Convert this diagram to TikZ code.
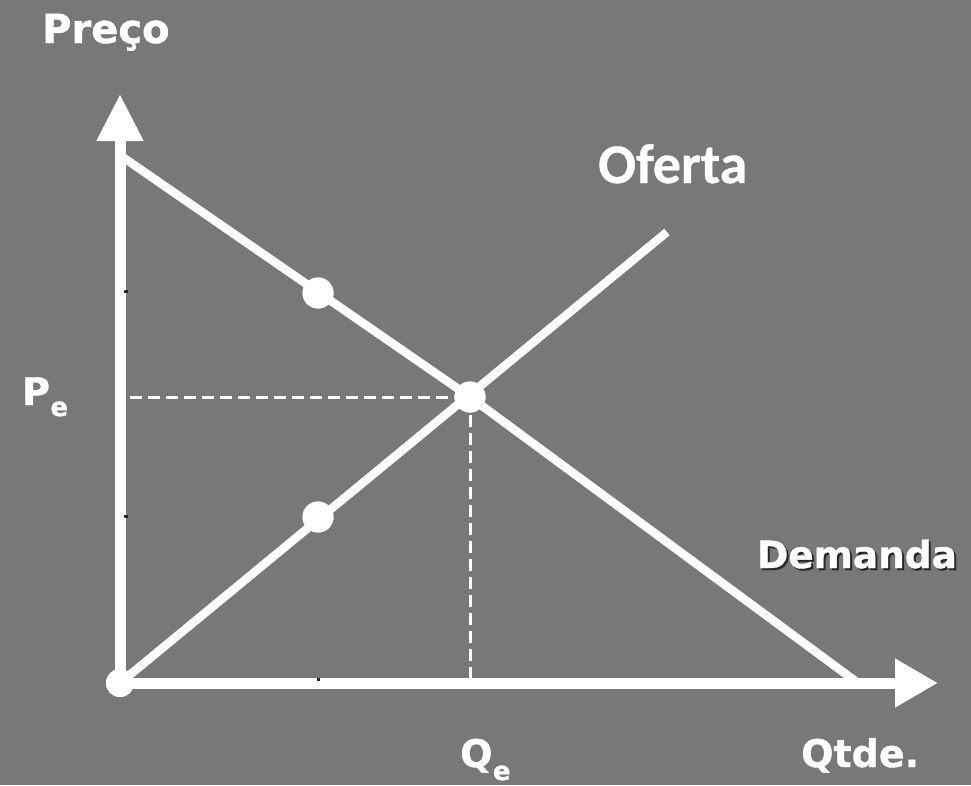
\documentclass[tikz,border=0pt]{standalone}
\usepackage{fontspec}
\newfontfamily\dvs{DejaVu Sans}[BoldFeatures={FakeBold=1}]
\newfontfamily\carl{Carlito}[BoldFeatures={FakeBold=0.6}]
\usetikzlibrary{arrows.meta}
\definecolor{bggray}{RGB}{120,120,120}
\definecolor{tickgray}{RGB}{40,40,40}
\tikzset{
  axisline/.style={draw=white, line width=11pt},
  curveline/.style={draw=white, line width=8.5pt},
  guide/.style={draw=white, line width=3pt, dash pattern=on 12pt off 6pt},
  dotnode/.style={circle, fill=white, minimum size=31pt, inner sep=0pt},
  lbl/.style={text=white, inner sep=0pt, font=\dvs\bfseries\fontsize{38}{44}\selectfont},
  sublbl/.style={text=white, inner sep=0pt, font=\dvs\bfseries\fontsize{26}{30}\selectfont},
  tickmark/.style={draw=tickgray, line width=3pt}
}
\begin{document}
\begin{tikzpicture}[x=1pt,y=-1pt]
\fill[bggray] (0,0) rectangle (971,785);
\useasboundingbox (0,0) rectangle (971,785);

% coordinates
\coordinate (ytip) at (120,94);
\coordinate (xtip) at (938,683);
\coordinate (dstart) at (124,158);
\coordinate (dend) at (858,683);
\coordinate (send) at (667,232);
\coordinate (pe) at (130,397);
\coordinate (qe) at (470,680);

% dots (placed first to get names)
\node[dotnode, minimum size=28pt] (o) at (120,683) {};
\node[dotnode] (eq) at (470,397) {};
\node[dotnode] (d1) at (318,293) {};
\node[dotnode] (s1) at (318,517) {};

% guides
\draw[guide] (pe) -- (eq.center);
\draw[guide] (eq.center) -- (qe);

% axes
\draw[axisline, -{Triangle[length=47pt, width=44pt]}] (o.center) -- (ytip);
\draw[axisline, -{Triangle[length=43pt, width=46pt]}] (o.center) -- (xtip);

% curves
\draw[curveline, line join=round] (dstart) -- (eq.center) -- (dend);
\draw[curveline] (o.center) -- (send);

% redraw dots on top
\node[dotnode, minimum size=28pt] at (o) {};
\node[dotnode] at (eq) {};
\node[dotnode] at (d1) {};
\node[dotnode] at (s1) {};

% tick marks
\draw[tickmark] (124,291) -- (128,291);
\draw[tickmark] (124,516) -- (128,516);
\draw[tickmark] (318,678) -- (318,681);

% labels
\node[lbl, anchor=base west, font=\dvs\bfseries\fontsize{40}{46}\selectfont] (preco) at (42,43) {Preço};
\node[text=white, inner sep=0pt, anchor=base west, font=\carl\bfseries\fontsize{56}{62}\selectfont] (oferta) at (598,183) {Oferta};
\node[lbl, anchor=base west, font=\dvs\bfseries\fontsize{37.5}{44}\selectfont] (demanda) at (757,568)
  {\makebox[0pt][l]{\hspace{2pt}\raisebox{-2pt}{\textcolor{tickgray}{Demanda}}}Demanda};
\node[lbl, anchor=base west] (P) at (22,405) {P};
\node[sublbl, anchor=base west] (Pe) at (P.base east) {\raisebox{-11pt}{e}};
\node[lbl, anchor=base west] (Q) at (460,767) {Q};
\node[sublbl, anchor=base west] (Qe) at (Q.base east) {\raisebox{-13pt}{e}};
\node[lbl, anchor=base west] (qtde) at (801,767) {Qtde.};
\end{tikzpicture}
\end{document}
